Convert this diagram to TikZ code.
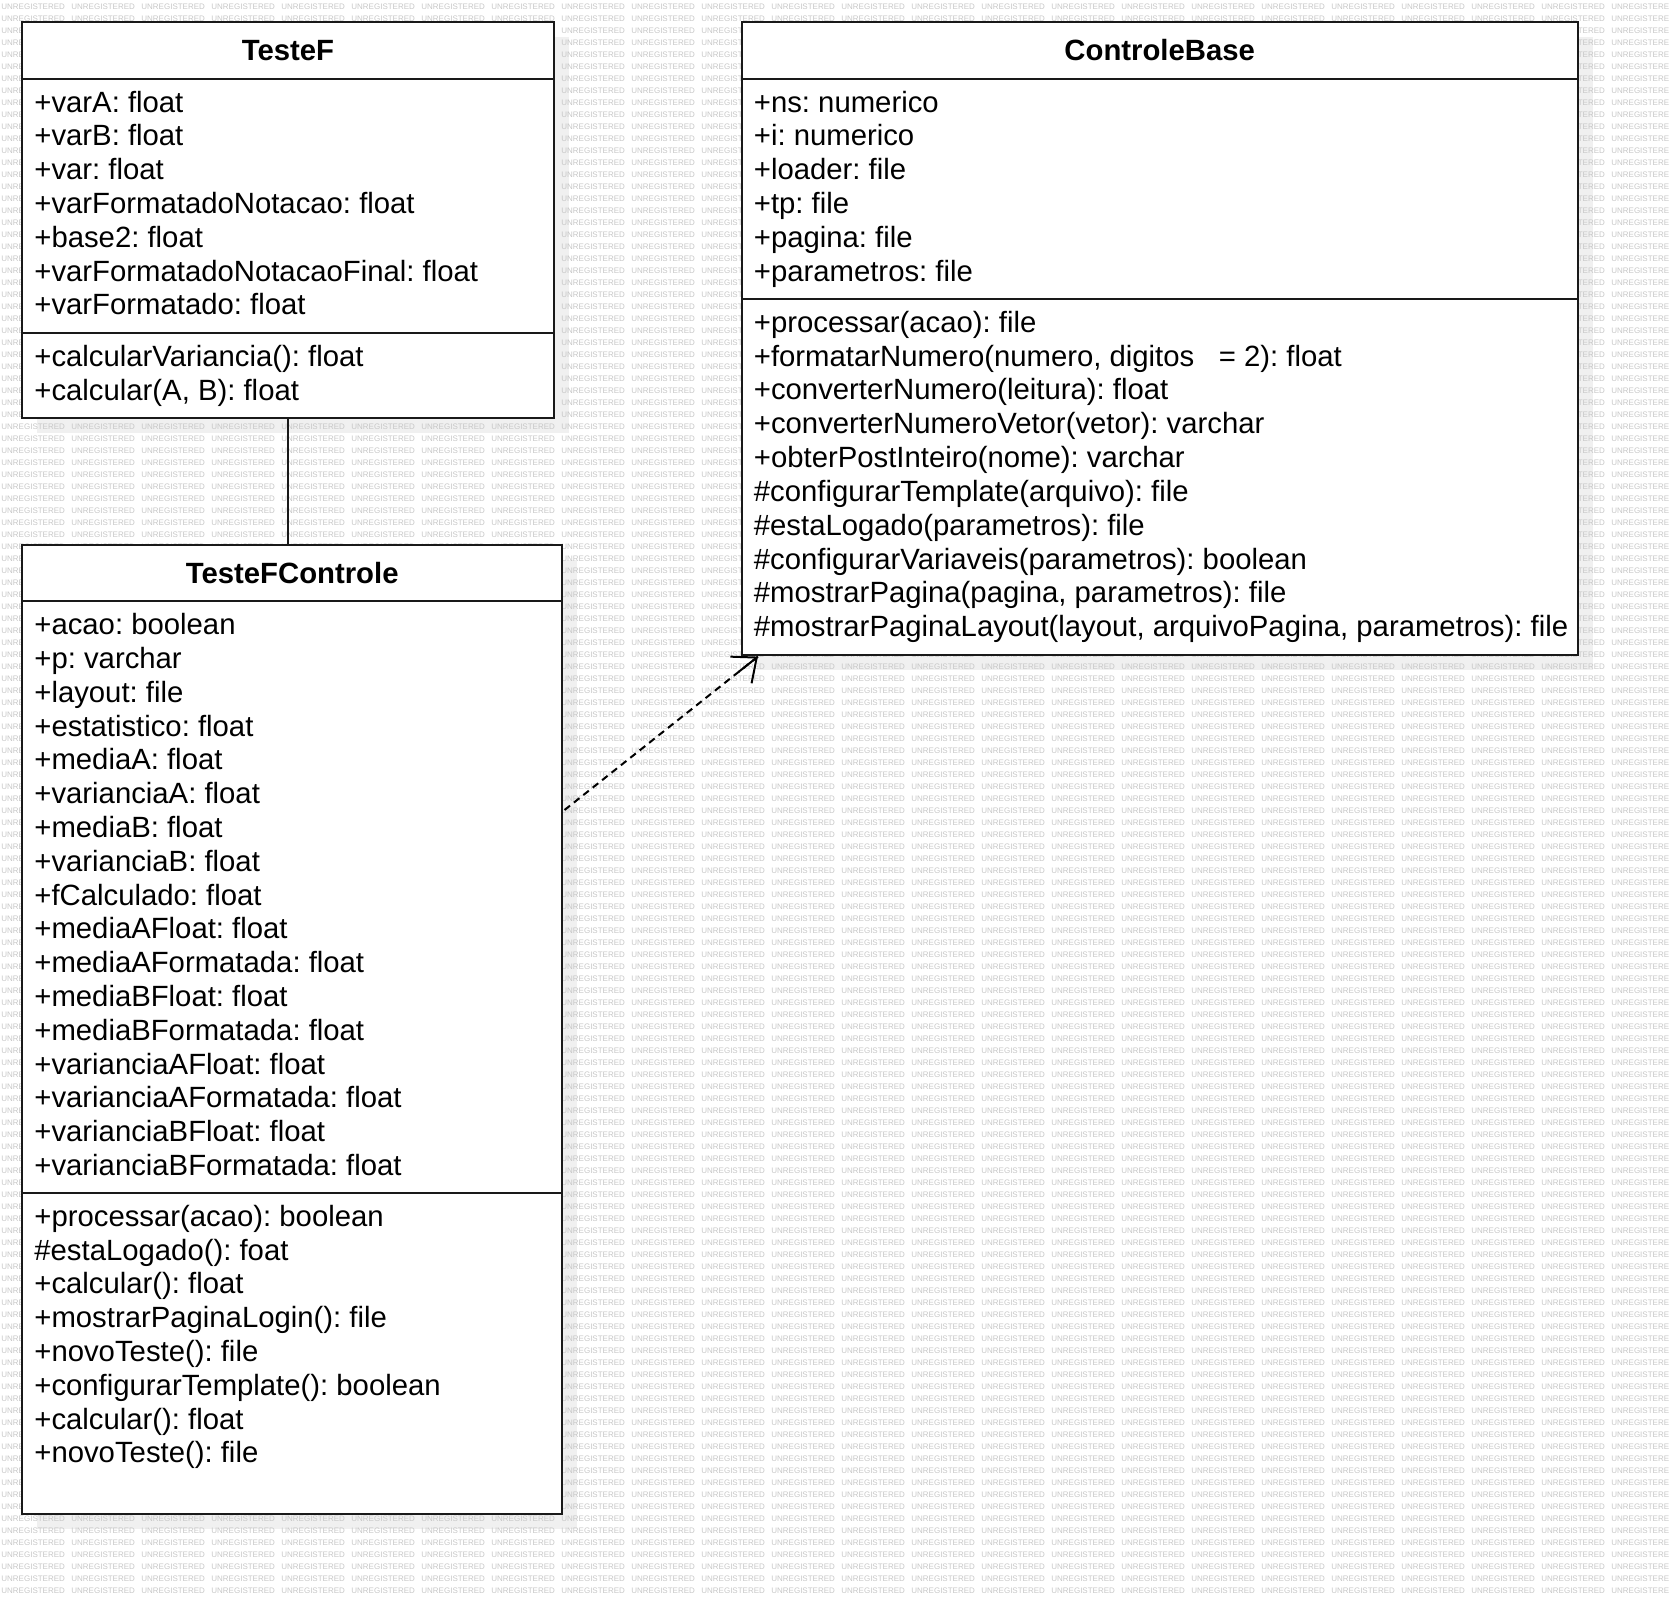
\documentclass[tikz,border=0pt]{standalone}
\usepackage{fontspec}
\setmainfont{Liberation Sans}
\usetikzlibrary{fit,calc,arrows.meta}
\frenchspacing

\newcommand{\wmrow}{\foreach \wc in {1,...,24}{\makebox[35pt][l]{UNREGISTERED}}}

\begin{document}
\begin{tikzpicture}[x=0.5pt,y=-0.5pt,
  wmark/.style={anchor=west,inner sep=0,text=black!22,font=\fontsize{4}{4.5}\selectfont},
  classbox/.style={draw=black!90,fill=white,line width=1pt,inner sep=0},
  shadowbox/.style={fill=black!6},
  member/.style={anchor=base west,inner sep=0,font=\fontsize{14.65}{16.9}\selectfont},
  title/.style={anchor=base,inner sep=0,font=\fontsize{14.65}{16.9}\selectfont\bfseries},
  divider/.style={draw=black!90,line width=1pt},
  realize/.style={line width=1pt,dash pattern=on 3.5pt off 2.5pt},
  realtip/.style={line width=1pt,-{Straight Barb[length=10pt,width=17pt]}}]

\useasboundingbox (0,0) rectangle (1669,1604);

% corners of the three classes
\coordinate (tf-nw) at (22.4,22.4);
\coordinate (tf-se) at (553.5,418.3);
\coordinate (cb-nw) at (741.9,22.4);
\coordinate (cb-se) at (1577.5,654.6);
\coordinate (tfc-nw) at (22.4,545);
\coordinate (tfc-se) at (562,1513.6);

% shadows
\fill[shadowbox] ($(tf-nw)+(15,15)$) rectangle ($(tf-se)+(15,15)$);
\fill[shadowbox] ($(cb-nw)+(15,15)$) rectangle ($(cb-se)+(15,15)$);
\fill[shadowbox] ($(tfc-nw)+(15,15)$) rectangle ($(tfc-se)+(15,15)$);

% watermark
\foreach \r in {0,...,132}
  \node[wmark] (wm\r) at (1,7+12*\r) {\wmrow};

% TesteF
\node[classbox,fit=(tf-nw)(tf-se)] (TesteF) {};
\node[title] (tf-title) at (TesteF.north |- 0,61) {TesteF};
\draw[divider] (TesteF.west |- 0,78.8) -- (TesteF.east |- 0,78.8);
\draw[divider] (TesteF.west |- 0,333.2) -- (TesteF.east |- 0,333.2);
\foreach \txt [count=\k from 0] in {+varA: float,+varB: float,+var: float,+varFormatadoNotacao: float,+base2: float,+varFormatadoNotacaoFinal: float,+varFormatado: float}
  \node[member] (tf-a\k) at (34,112.1+33.8*\k) {\txt};
\foreach \txt [count=\k from 0] in {+calcularVariancia(): float,{+calcular(A, B): float}}
  \node[member] (tf-m\k) at (34,366.5+33.8*\k) {\txt};

% ControleBase
\node[classbox,fit=(cb-nw)(cb-se)] (ControleBase) {};
\node[title] (cb-title) at (ControleBase.north |- 0,61) {ControleBase};
\draw[divider] (ControleBase.west |- 0,78.8) -- (ControleBase.east |- 0,78.8);
\draw[divider] (ControleBase.west |- 0,299.1) -- (ControleBase.east |- 0,299.1);
\foreach \txt [count=\k from 0] in {+ns: numerico,+i: numerico,+loader: file,+tp: file,+pagina: file,+parametros: file}
  \node[member] (cb-a\k) at (753.5,112.1+33.8*\k) {\txt};
\foreach \txt [count=\k from 0] in {+processar(acao): file,{+formatarNumero(numero, digitos\ \ \ = 2): float},+converterNumero(leitura): float,+converterNumeroVetor(vetor): varchar,+obterPostInteiro(nome): varchar,\#configurarTemplate(arquivo): file,\#estaLogado(parametros): file,\#configurarVariaveis(parametros): boolean,{\#mostrarPagina(pagina, parametros): file},{\#mostrarPaginaLayout(layout, arquivoPagina, parametros): file}}
  \node[member] (cb-m\k) at (753.5,332.4+33.8*\k) {\txt};

% TesteFControle
\node[classbox,fit=(tfc-nw)(tfc-se)] (TesteFControle) {};
\node[title] (tfc-title) at (TesteFControle.north |- 0,583.6) {TesteFControle};
\draw[divider] (TesteFControle.west |- 0,601.4) -- (TesteFControle.east |- 0,601.4);
\draw[divider] (TesteFControle.west |- 0,1192.9) -- (TesteFControle.east |- 0,1192.9);
\foreach \txt [count=\k from 0] in {+acao: boolean,+p: varchar,+layout: file,+estatistico: float,+mediaA: float,+varianciaA: float,+mediaB: float,+varianciaB: float,+fCalculado: float,+mediaAFloat: float,+mediaAFormatada: float,+mediaBFloat: float,+mediaBFormatada: float,+varianciaAFloat: float,+varianciaAFormatada: float,+varianciaBFloat: float,+varianciaBFormatada: float}
  \node[member] (tfc-a\k) at (34,634.7+33.8*\k) {\txt};
\foreach \txt [count=\k from 0] in {+processar(acao): boolean,\#estaLogado(): foat,+calcular(): float,+mostrarPaginaLogin(): file,+novoTeste(): file,+configurarTemplate(): boolean,+calcular(): float,+novoTeste(): file}
  \node[member] (tfc-m\k) at (34,1226.2+33.8*\k) {\txt};

% connectors
\draw[divider] (TesteF.south) -- (TesteF.south |- TesteFControle.north);
\coordinate (dep-start) at ($(TesteFControle.north east)+(1.5,266)$);
\coordinate (dep-end) at ($(ControleBase.south west)+(17,1)$);
\draw[realize] (dep-start) -- (dep-end);
\draw[realtip] ($(dep-start)!0.9!(dep-end)$) -- (dep-end);
\end{tikzpicture}
\end{document}
